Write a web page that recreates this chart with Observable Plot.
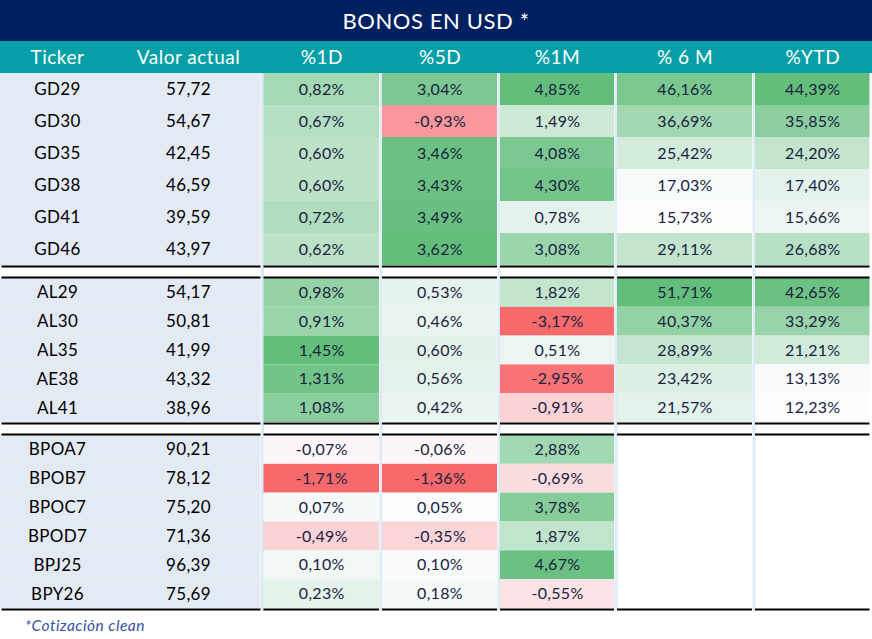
<!DOCTYPE html>
<html><head><meta charset="utf-8">
<script src="https://cdn.jsdelivr.net/npm/d3@7"></script>
<script src="https://cdn.jsdelivr.net/npm/@observablehq/plot@0.6"></script>
<style>
body{margin:0;background:#fff;font-family:Lato,sans-serif;}
#wrap{width:872px;}
#title{height:41px;background:#002060;color:#fff;font-size:22px;display:flex;align-items:center;justify-content:center;letter-spacing:0.6px;}
#note{height:29px;font-style:italic;color:#3552A3;font-size:15.5px;padding-left:25px;line-height:28px;letter-spacing:0.5px;}
svg{display:block}
</style></head><body>
<div id="wrap"><div id="title"></div><div id="chart"></div><div id="note"></div></div>
<script>
// ---------- data ----------
const titleText = "BONOS EN USD *";
const footnote = "*Cotización clean";
const headers = ["Ticker", "Valor actual", "%1D", "%5D", "%1M", "% 6 M", "%YTD"];
const tickers = ["GD29","GD30","GD35","GD38","GD41","GD46","AL29","AL30","AL35","AE38","AL41","BPOA7","BPOB7","BPOC7","BPOD7","BPJ25","BPY26"];
const groups  = [1,1,1,1,1,1,2,2,2,2,2,3,3,3,3,3,3];
const valor   = [57.72,54.67,42.45,46.59,39.59,43.97,54.17,50.81,41.99,43.32,38.96,90.21,78.12,75.20,71.36,96.39,75.69];
const pct1D   = [0.82,0.67,0.60,0.60,0.72,0.62,0.98,0.91,1.45,1.31,1.08,-0.07,-1.71,0.07,-0.49,0.10,0.23];
const pct5D   = [3.04,-0.93,3.46,3.43,3.49,3.62,0.53,0.46,0.60,0.56,0.42,-0.06,-1.36,0.05,-0.35,0.10,0.18];
const pct1M   = [4.85,1.49,4.08,4.30,0.78,3.08,1.82,-3.17,0.51,-2.95,-0.91,2.88,-0.69,3.78,1.87,4.67,-0.55];
const pct6M   = [46.16,36.69,25.42,17.03,15.73,29.11,51.71,40.37,28.89,23.42,21.57,null,null,null,null,null,null];
const pctYTD  = [44.39,35.85,24.20,17.40,15.66,26.68,42.65,33.29,21.21,13.13,12.23,null,null,null,null,null,null];

// ---------- layout ----------
const colWidths = [114, 148, 118.5, 118, 117, 138, 117.5];
const groupLayout = [
  {height: 203, top: 0, bottom: 11, topLine: false},
  {height: 157, top: 2, bottom: 11, topLine: true},
  {height: 178, top: 2, bottom: 3, topLine: true}
];
const colors = {header:"#069FA7", left:"#E3EAF4", sep:"#DDEBF7", text:"#18223F"};

document.getElementById("title").textContent = titleText;
document.getElementById("note").textContent = footnote;

const edges = [0, ...Array.from(d3.cumsum(colWidths))];
const total = edges[edges.length - 1];
const loc = d3.formatLocale({decimal: ",", thousands: ".", grouping: [3], currency: ["$", ""], minus: "-"});
const f2 = loc.format(".2f");

const pctCols = [pct1D, pct5D, pct1M, pct6M, pctYTD];
function normalizer(vals) {
  const f = vals.filter(v => v != null);
  const mn = d3.min(f), mx = d3.max(f);
  const lo = mn < 0 ? 0 : mn;
  return v => v < 0 ? v / (-mn) : (v - lo) / (mx - lo);
}
const norms = pctCols.map(normalizer);

const xScale = {domain: [0, total], range: [0, total], axis: null};
const chart = document.getElementById("chart");

// header
chart.append(Plot.plot({
  width: 872, height: 32, margin: 0,
  x: xScale, y: {domain: [0, 1], axis: null},
  style: {background: colors.header, fontFamily: "Lato, sans-serif", letterSpacing: "0.5px"},
  marks: [
    Plot.text(headers, {x: (d, i) => (edges[i] + edges[i + 1]) / 2, y: () => 0.5, text: d => d, fill: "white", fontSize: 19})
  ]
}));

[1, 2, 3].forEach((g, gi) => {
  const L = groupLayout[gi];
  const idx = d3.range(tickers.length).filter(i => groups[i] === g);
  const n = idx.length;
  const rows = idx.map((k, i) => ({i, ticker: tickers[k], valor: valor[k]}));
  const cells = [];
  idx.forEach((k, i) => {
    pctCols.forEach((col, c) => {
      const v = col[k];
      if (v == null) return;
      cells.push({i, c, x1: edges[c + 2], x2: edges[c + 3], t: norms[c](v), label: f2(v) + "%"});
    });
  });
  const segs = [{x1: 0, x2: edges[2]}, ...pctCols.map((_, c) => ({x1: edges[c + 2], x2: edges[c + 3]}))];
  const marks = [
    Plot.rect(rows, {x1: () => 0, x2: () => edges[2], y1: d => d.i, y2: d => d.i + 1, fill: colors.left, insetRight: 1.5}),
    Plot.ruleX(edges.slice(2, -1), {stroke: colors.sep, strokeWidth: 3, insetTop: -L.top, insetBottom: -L.bottom}),
    Plot.rect(cells, {x1: "x1", x2: "x2", y1: d => d.i, y2: d => d.i + 1, fill: "t", insetLeft: 1.5, insetRight: 1.5}),
    Plot.text(rows, {x: () => (edges[0] + edges[1]) / 2, y: d => d.i + 0.5, text: "ticker", fill: "black", fontSize: 17}),
    Plot.text(rows, {x: () => (edges[1] + edges[2]) / 2, y: d => d.i + 0.5, text: d => f2(d.valor), fill: "black", fontSize: 17}),
    Plot.text(cells, {x: d => (d.x1 + d.x2) / 2, y: d => d.i + 0.5, text: "label", fill: colors.text, fontSize: 16}),
    Plot.ruleY(segs, {y: () => n, x1: "x1", x2: "x2", stroke: "black", strokeWidth: 2, dy: 1, insetLeft: 1.5, insetRight: 1.5})
  ];
  if (L.topLine) marks.push(Plot.ruleY(segs, {y: () => 0, x1: "x1", x2: "x2", stroke: "black", strokeWidth: 2, dy: -1, insetLeft: 1.5, insetRight: 1.5}));
  chart.append(Plot.plot({
    width: 872, height: L.height,
    marginTop: L.top, marginBottom: L.bottom, marginLeft: 0, marginRight: 872 - total,
    x: xScale,
    y: {domain: [0, n], reverse: true, axis: null},
    color: {type: "linear", domain: [-1, 0, 1], range: ["#F8696B", "#FCFCFF", "#63BE7B"], interpolate: "rgb"},
    style: {background: "white", fontFamily: "Lato, sans-serif", letterSpacing: "0.3px", overflow: "visible"},
    marks
  }));
});
</script>
</body></html>
